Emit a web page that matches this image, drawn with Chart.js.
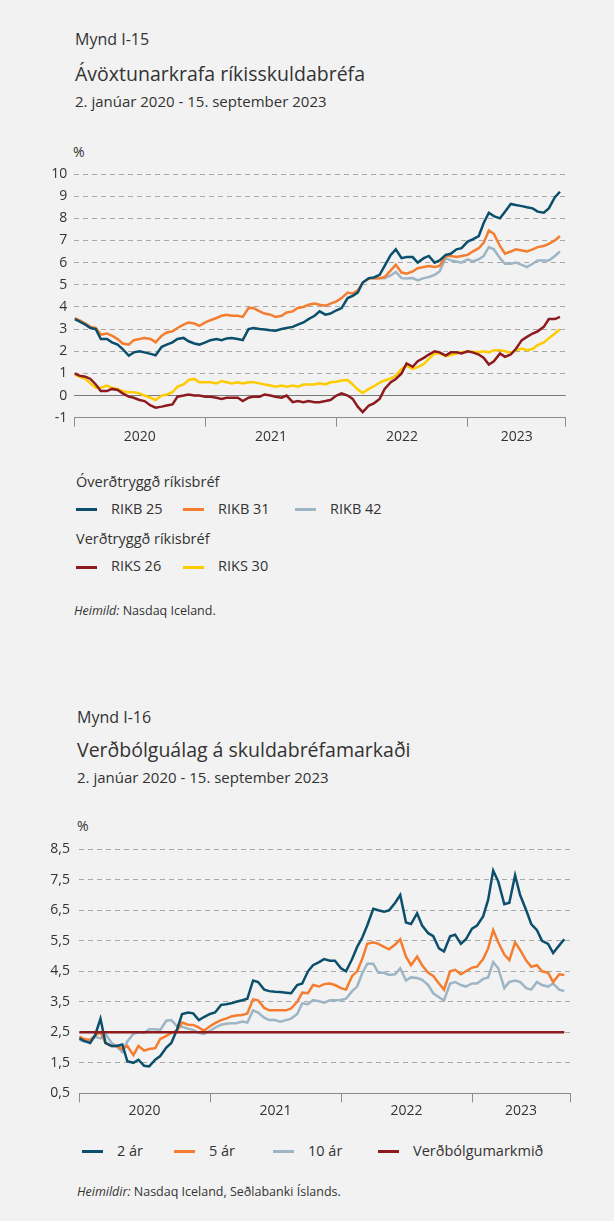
<!DOCTYPE html>
<html lang="is">
<head>
<meta charset="utf-8">
<title>Mynd I-15 og I-16</title>
<script src="https://cdn.jsdelivr.net/npm/chart.js@4.4.0/dist/chart.umd.min.js"></script>
<style>
  html, body { margin: 0; padding: 0; }
  body {
    width: 614px; height: 1221px; position: relative; overflow: hidden;
    background: #f2f2f2; color: #333;
    font-family: "Segoe UI", "Open Sans", "Noto Sans", sans-serif;
  }
  .t { position: absolute; line-height: 1; white-space: nowrap; }
  .mynd { font-size: 16px; }
  .title { font-size: 19.5px; }
  .sub { font-size: 15px; }
  .pct { font-size: 14px; }
  .lg { font-size: 14.5px; }
  .src { font-size: 12.5px; }
  .key { position: absolute; width: 21px; height: 3px; }
  canvas { position: absolute; left: 0; }
</style>
</head>
<body>

<div class="t mynd" style="left:75px;top:31px">Mynd I-15</div>
<div class="t title" style="left:75px;top:64px">Ávöxtunarkrafa ríkisskuldabréfa</div>
<div class="t sub" style="left:75px;top:94px">2. janúar 2020 - 15. september 2023</div>
<div class="t pct" style="left:73px;top:145px">%</div>
<canvas id="chart1" width="614" height="310" style="top:150px"></canvas>
<div id="legend1"></div>
<div class="t src" style="left:74px;top:605px"><i>Heimild:</i> Nasdaq Iceland.</div>

<div class="t mynd" style="left:77px;top:709px">Mynd I-16</div>
<div class="t title" style="left:77px;top:740px">Verðbólguálag á skuldabréfamarkaði</div>
<div class="t sub" style="left:77px;top:770px">2. janúar 2020 - 15. september 2023</div>
<div class="t pct" style="left:77px;top:819px">%</div>
<canvas id="chart2" width="614" height="300" style="top:825px"></canvas>
<div id="legend2"></div>
<div class="t src" style="left:77px;top:1186px"><i>Heimildir:</i> Nasdaq Iceland, Seðlabanki Íslands.</div>

<script>
// dates shared by all series (1st and 15th of each month)
const dates = [
  "2020-01-02","2020-01-15","2020-02-01","2020-02-15","2020-03-01","2020-03-15","2020-04-01","2020-04-15",
  "2020-05-01","2020-05-15","2020-06-01","2020-06-15","2020-07-01","2020-07-15","2020-08-01","2020-08-15",
  "2020-09-01","2020-09-15","2020-10-01","2020-10-15","2020-11-01","2020-11-15","2020-12-01","2020-12-15",
  "2021-01-01","2021-01-15","2021-02-01","2021-02-15","2021-03-01","2021-03-15","2021-04-01","2021-04-15",
  "2021-05-01","2021-05-15","2021-06-01","2021-06-15","2021-07-01","2021-07-15","2021-08-01","2021-08-15",
  "2021-09-01","2021-09-15","2021-10-01","2021-10-15","2021-11-01","2021-11-15","2021-12-01","2021-12-15",
  "2022-01-01","2022-01-15","2022-02-01","2022-02-15","2022-03-01","2022-03-15","2022-04-01","2022-04-15",
  "2022-05-01","2022-05-15","2022-06-01","2022-06-15","2022-07-01","2022-07-15","2022-08-01","2022-08-15",
  "2022-09-01","2022-09-15","2022-10-01","2022-10-15","2022-11-01","2022-11-15","2022-12-01","2022-12-15",
  "2023-01-01","2023-01-15","2023-02-01","2023-02-15","2023-03-01","2023-03-15","2023-04-01","2023-04-15",
  "2023-05-01","2023-05-15","2023-06-01","2023-06-15","2023-07-01","2023-07-15","2023-08-01","2023-08-15",
  "2023-09-01","2023-09-15"
]

// Mynd I-15 - ávöxtunarkrafa (%)
const rikb25 = [
  3.45,3.35, 3.2,3.05, 3.0,2.55, 2.55,2.4, 2.3,2.1, 1.8,1.95, 2.0,1.95, 1.88,1.82, 2.2,2.3, 2.4,2.55, 2.6,2.45, 2.35,2.3,
  2.4,2.5, 2.55,2.5, 2.58,2.6, 2.55,2.5, 3.0,3.05, 3.0,2.98, 2.95,2.93, 3.0,3.05, 3.1,3.2, 3.3,3.45, 3.6,3.8, 3.65,3.7,
  3.85,3.95, 4.4,4.5, 4.65,5.1, 5.3,5.33, 5.45,5.85, 6.35,6.6, 6.2,6.25, 6.25,6.0, 6.2,6.3, 6.0,6.1, 6.35,6.4, 6.6,6.65,
  6.95,7.05, 7.2,7.8, 8.25,8.1, 8.0,8.3, 8.65,8.6, 8.55,8.5, 8.45,8.3, 8.25,8.45, 8.95,9.2
]
const rikb31 = [
  3.5,3.4, 3.25,3.1, 3.05,2.75, 2.8,2.7, 2.55,2.35, 2.3,2.5, 2.55,2.6, 2.55,2.4, 2.7,2.85, 2.9,3.05, 3.2,3.3, 3.25,3.15,
  3.3,3.4, 3.5,3.6, 3.65,3.6, 3.6,3.55, 3.95,3.95, 3.8,3.7, 3.65,3.55, 3.6,3.75, 3.8,3.95, 4.0,4.1, 4.15,4.1, 4.05,4.15,
  4.25,4.4, 4.65,4.6, 4.75,5.1, 5.28,5.3, 5.3,5.35, 5.65,5.9, 5.55,5.5, 5.6,5.75, 5.8,5.85, 5.8,5.85, 6.3,6.3, 6.25,6.3,
  6.35,6.5, 6.65,6.9, 7.45,7.3, 6.75,6.4, 6.5,6.6, 6.55,6.5, 6.6,6.7, 6.75,6.85, 7.0,7.2
]
// RIKB 42 is only shown from April 2022
const rikb42 = [
  null,null, null,null, null,null, null,null, null,null, null,null, null,null, null,null, null,null, null,null, null,null, null,null,
  null,null, null,null, null,null, null,null, null,null, null,null, null,null, null,null, null,null, null,null, null,null, null,null,
  null,null, null,null, null,null, 5.28,5.3, 5.3,5.3, 5.42,5.58, 5.3,5.28, 5.3,5.2, 5.3,5.35, 5.45,5.6, 6.2,6.1, 6.05,6.0,
  6.15,6.05, 6.15,6.3, 6.7,6.6, 6.2,5.95, 5.95,6.0, 5.9,5.8, 5.95,6.1, 6.1,6.1, 6.3,6.5
]
const riks26 = [
  1.0,0.9, 0.85,0.75, 0.5,0.2, 0.2,0.3, 0.25,0.1, -0.05,-0.1, -0.2,-0.25, -0.45,-0.55, -0.5,-0.45, -0.4,-0.05, 0.0,0.05, 0.0,0.0,
  -0.05,-0.05, -0.1,-0.15, -0.1,-0.1, -0.1,-0.25, -0.1,-0.05, -0.05,0.05, 0.0,-0.05, -0.1,0.0, -0.3,-0.25, -0.3,-0.25, -0.3,-0.3, -0.25,-0.2,
  0.0,0.1, 0.0,-0.15, -0.5,-0.75, -0.45,-0.35, -0.15,0.3, 0.6,0.75, 1.0,1.45, 1.3,1.55, 1.7,1.85, 2.0,1.95, 1.8,1.95, 1.95,1.9,
  2.0,1.95, 1.85,1.7, 1.4,1.55, 1.9,1.75, 1.85,2.1, 2.5,2.65, 2.8,2.9, 3.1,3.45, 3.45,3.55
]
const riks30 = [
  0.95,0.85, 0.75,0.55, 0.35,0.35, 0.45,0.35, 0.3,0.2, 0.15,0.15, 0.1,0.0, -0.1,-0.2, 0.0,0.05, 0.15,0.4, 0.5,0.7, 0.75,0.6,
  0.6,0.6, 0.55,0.65, 0.6,0.55, 0.6,0.55, 0.6,0.6, 0.55,0.5, 0.45,0.4, 0.45,0.4, 0.45,0.4, 0.5,0.5, 0.5,0.55, 0.5,0.6,
  0.62,0.68, 0.7,0.5, 0.27,0.12, 0.3,0.42, 0.58,0.68, 0.77,0.9, 1.2,1.35, 1.2,1.28, 1.42,1.65, 1.9,1.9, 1.78,1.83, 1.9,1.95,
  1.98,1.98, 1.95,2.0, 1.95,2.05, 2.05,2.0, 1.92,2.05, 2.12,2.05, 2.1,2.28, 2.4,2.58, 2.8,3.0
]

// Mynd I-16 - verðbólguálag (%)
const be2 = [
  2.3,2.22, 2.15,2.4, 2.95,2.15, 2.05,2.05, 2.1,1.55, 1.5,1.6, 1.4,1.38, 1.6,1.72, 2.0,2.15, 2.6,3.1, 3.15,3.12, 2.9,3.0,
  3.1,3.15, 3.4,3.42, 3.45,3.5, 3.55,3.6, 4.2,4.15, 3.9,3.85, 3.83,3.82, 3.8,3.78, 4.05,4.1, 4.5,4.7, 4.8,4.9, 4.85,4.85,
  4.6,4.5, 4.9,5.3, 5.6,6.0, 6.55,6.5, 6.45,6.5, 6.75,7.0, 6.1,6.05, 6.4,6.0, 5.75,5.65, 5.25,5.15, 5.65,5.7, 5.4,5.55,
  5.9,6.0, 6.3,6.85, 7.8,7.45, 6.7,6.75, 7.65,7.0, 6.5,6.05, 5.85,5.5, 5.4,5.1, 5.35,5.55
]
const be5 = [
  2.36,2.28, 2.25,2.4, 2.5,2.15, 2.05,2.05, 1.95,2.05, 1.75,2.05, 1.9,1.95, 1.98,2.28, 2.38,2.48, 2.55,2.82, 2.75,2.74, 2.65,2.55,
  2.7,2.8, 2.9,2.95, 3.02,3.05, 3.07,3.12, 3.58,3.55, 3.3,3.22, 3.22,3.22, 3.22,3.28, 3.5,3.8, 3.78,4.05, 4.0,4.08, 4.1,4.05,
  3.95,3.9, 4.35,4.5, 4.9,5.4, 5.45,5.4, 5.3,5.22, 5.38,5.55, 4.98,4.7, 4.98,4.7, 4.45,4.35, 4.1,3.9, 4.5,4.55, 4.4,4.5,
  4.62,4.65, 4.9,5.25, 5.85,5.45, 5.05,4.87, 5.45,5.2, 4.85,4.65, 4.7,4.5, 4.45,4.15, 4.4,4.38
]
const be10 = [
  2.25,2.2, 2.25,2.35, 2.3,2.45, 2.15,2.05, 1.85,2.2, 2.45,2.5, 2.48,2.6, 2.6,2.58, 2.88,2.9, 2.7,2.68, 2.62,2.58, 2.48,2.45,
  2.55,2.65, 2.75,2.78, 2.8,2.8, 2.85,2.82, 3.22,3.15, 2.98,2.9, 2.9,2.85, 2.9,2.95, 3.1,3.45, 3.42,3.56, 3.52,3.47, 3.55,3.55,
  3.56,3.6, 3.85,4.0, 4.43,4.75, 4.75,4.45, 4.45,4.38, 4.4,4.6, 4.2,4.3, 4.28,4.22, 4.05,3.78, 3.65,3.55, 4.1,4.15, 4.05,4.0,
  4.1,4.1, 4.25,4.3, 4.8,4.6, 3.95,4.15, 4.2,4.15, 3.95,3.9, 4.15,4.05, 4.0,4.1, 3.9,3.85
]
const targetDates = ["2020-01-02", "2023-09-15"]
const inflationTarget = [2.5, 2.5]

// x axis: year boundaries and the labels between them
const yearEdges = ["2020-01-01", "2021-01-01", "2022-01-01", "2023-01-01", "2023-10-01"]
const yearLabels = ["2020", "2021", "2022", "2023"]

const COLORS = {
  teal: "#0b4f6c",
  orange: "#f47d30",
  grey: "#9db5c4",
  red: "#8c1a1f",
  yellow: "#fecb00",
}

Chart.defaults.font.family = '"Segoe UI", "Open Sans", "Noto Sans", sans-serif'
Chart.defaults.color = "#333"

function toYear(s) {
  const d = new Date(s + "T00:00:00Z")
  const y = d.getUTCFullYear()
  const start = Date.UTC(y, 0, 1)
  const end = Date.UTC(y + 1, 0, 1)
  return y + (d.getTime() - start) / (end - start)
}

function points(xs, ys) {
  return xs.map((d, i) => ({ x: toYear(d), y: ys[i] }))
}

function lineSet(label, xs, ys, color, order) {
  return {
    label: label,
    data: points(xs, ys),
    borderColor: color,
    backgroundColor: color,
    borderWidth: 2.5,
    pointRadius: 0,
    tension: 0,
    order: order,
  }
}

function yearAxis(labelPad) {
  const edges = yearEdges.map(toYear)
  const mids = yearLabels.map((_, i) => (edges[i] + edges[i + 1]) / 2)
  return {
    type: "linear",
    min: edges[0],
    max: edges[edges.length - 1],
    afterBuildTicks: (scale) => {
      scale.ticks = edges.concat(mids).sort((a, b) => a - b).map((v) => ({ value: v }))
    },
    afterFit: (scale) => { scale.height = 30 },
    ticks: {
      autoSkip: false,
      maxRotation: 0,
      padding: labelPad,
      font: { size: 14 },
      callback: (v) => {
        const i = mids.indexOf(v)
        return i >= 0 ? yearLabels[i] : ""
      },
    },
    grid: {
      drawOnChartArea: false,
      tickLength: 9,
      tickWidth: 1,
      tickColor: (ctx) => (ctx.tick && edges.includes(ctx.tick.value) ? "#8c8c8c" : "rgba(0,0,0,0)"),
    },
    border: { display: true, color: "#8c8c8c", width: 1 },
  }
}

function valueAxis(min, max, width, pad, solidAt, fmt) {
  return {
    min: min,
    max: max,
    afterFit: (scale) => { scale.width = width },
    ticks: { stepSize: 1, padding: pad, font: { size: 14 }, callback: fmt },
    grid: {
      drawTicks: false,
      lineWidth: 1,
      color: (ctx) => (ctx.tick && ctx.tick.value === solidAt ? "#7a7a7a" : "#a8a8a8"),
    },
    border: {
      display: false,
      dash: (ctx) => (ctx.tick && ctx.tick.value !== solidAt && ctx.tick.value !== min ? [5, 4] : []),
    },
  }
}

// Mynd I-15
const series1 = [
  lineSet("RIKB 25", dates, rikb25, COLORS.teal, 0),
  lineSet("RIKB 31", dates, rikb31, COLORS.orange, 1),
  lineSet("RIKB 42", dates, rikb42, COLORS.grey, 2),
  lineSet("RIKS 26", dates, riks26, COLORS.red, 3),
  lineSet("RIKS 30", dates, riks30, COLORS.yellow, 4),
]

new Chart(document.getElementById("chart1"), {
  type: "line",
  data: { datasets: series1 },
  options: {
    responsive: false,
    animation: false,
    layout: { padding: { top: 24, right: 48.3, bottom: 12.3, left: 0 } },
    plugins: { legend: { display: false }, tooltip: { enabled: false } },
    scales: {
      x: yearAxis(2),
      y: valueAxis(-1, 10, 74.3, 7, 0, (v) => String(v)),
    },
  },
})

// Mynd I-16
const series2 = [
  lineSet("2 ár", dates, be2, COLORS.teal, 1),
  lineSet("5 ár", dates, be5, COLORS.orange, 2),
  lineSet("10 ár", dates, be10, COLORS.grey, 3),
  lineSet("Verðbólgumarkmið", targetDates, inflationTarget, COLORS.red, 0),
]

new Chart(document.getElementById("chart2"), {
  type: "line",
  data: { datasets: series2 },
  options: {
    responsive: false,
    animation: false,
    layout: { padding: { top: 24.3, right: 44, bottom: 1.7, left: 0 } },
    plugins: { legend: { display: false }, tooltip: { enabled: false } },
    scales: {
      x: yearAxis(0),
      y: valueAxis(0.5, 8.5, 79, 9, null, (v) => v.toFixed(1).replace(".", ",")),
    },
  },
})

// legends, built from the datasets
function addText(parent, cls, x, top, text) {
  const el = document.createElement("div")
  el.className = "t " + cls
  el.style.left = x + "px"
  el.style.top = top + "px"
  el.textContent = text
  parent.appendChild(el)
}

function addKey(parent, x, lineTop, textTop, ds) {
  const k = document.createElement("div")
  k.className = "key"
  k.style.left = x + "px"
  k.style.top = lineTop + "px"
  k.style.background = ds.borderColor
  parent.appendChild(k)
  addText(parent, "lg", x + 35, textTop, ds.label)
}

const lg1 = document.getElementById("legend1")
addText(lg1, "lg", 76, 475, "Óverðtryggð ríkisbréf")
;[76, 183, 295].forEach((x, i) => addKey(lg1, x, 508, 502, series1[i]))
addText(lg1, "lg", 76, 532, "Verðtryggð ríkisbréf")
;[76, 183].forEach((x, i) => addKey(lg1, x, 566, 559, series1[i + 3]))

const lg2 = document.getElementById("legend2")
;[82, 174, 273, 378].forEach((x, i) => addKey(lg2, x, 1150, 1144, series2[i]))
</script>
</body>
</html>
